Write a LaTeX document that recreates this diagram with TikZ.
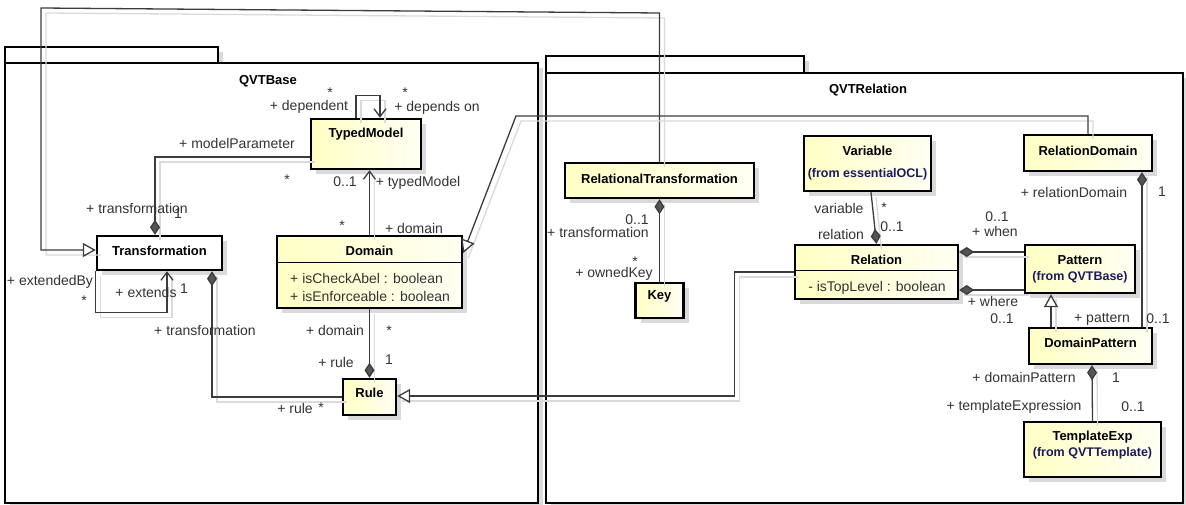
\documentclass[tikz,border=0pt]{standalone}
\usepackage{fontspec}
\setmainfont{Liberation Sans}
\usetikzlibrary{arrows.meta,shadows}

\definecolor{lbl}{HTML}{333333}
\definecolor{conn}{HTML}{3C3C3C}
\definecolor{shd}{HTML}{DADADA}
\definecolor{clsA}{HTML}{FFFFC4}
\definecolor{clsB}{HTML}{FFFFF4}
\definecolor{fromc}{HTML}{1A1A5E}
\definecolor{dia}{HTML}{555555}

\tikzset{
  every node/.style={font=\fontsize{14}{16}\selectfont},
  boxshadow/.style={drop shadow={shadow xshift=5pt, shadow yshift=-5pt, fill=shd, opacity=1}},
  pkg/.style={draw=black, line width=2pt, fill=white, inner sep=0, boxshadow},
  cls/.style={draw=black, line width=2.4pt, inner sep=0, left color=clsA, right color=clsB, boxshadow},
  plaincls/.style={draw=black, line width=2.4pt, inner sep=0, fill=white, boxshadow},
  title/.style={font=\bfseries\fontsize{13}{15}\selectfont, inner sep=0},
  fromtxt/.style={font=\bfseries\fontsize{12.5}{15}\selectfont, text=fromc, inner sep=0},
  attr/.style={inner sep=0, anchor=west, text=lbl},
  lab/.style={text=lbl, inner sep=0},
  divider/.style={draw=black, line width=1.3pt},
  conn/.style={draw=conn, line width=1.3pt,
    preaction={draw=shd, line width=1.3pt, -, transform canvas={shift={(5pt,-5pt)}}}},
  gen/.style={conn, -{Triangle[open, length=13pt, width=14pt, fill=white]}},
  nav/.style={conn, -{Straight Barb[length=8pt, width=12pt]}},
  compE/.style={conn, -{Diamond[length=15pt, width=10pt, fill=dia]}},
  compS/.style={conn, {Diamond[length=15pt, width=10pt, fill=dia]}-},
}

\begin{document}
\begin{tikzpicture}[x=1pt, y=-1pt]
\useasboundingbox (0,0) rectangle (1186,505);

% packages
\node[pkg, minimum width=213pt, minimum height=16pt] (baseTab) at (111.5,55) {};
\node[pkg, minimum width=532.5pt, minimum height=440pt] (baseFrame) at (271.25,283) {};
\node[title] (baseName) at (268,81) {QVTBase};

\node[pkg, minimum width=258pt, minimum height=17pt] (relTab) at (675,64.5) {};
\node[pkg, minimum width=637pt, minimum height=430pt] (relFrame) at (864.5,288) {};
\node[title] (relName) at (868,90) {QVTRelation};

% classes of QVTBase
\node[cls, minimum width=110pt, minimum height=50pt] (TM) at (366,144) {};
\node[title] (tTM) at ([yshift=-16pt]TM.north) {TypedModel};

\node[cls, minimum width=185pt, minimum height=72pt] (Dom) at (369.5,272) {};
\node[title] (tDom) at ([yshift=-16pt]Dom.north) {Domain};
\draw[divider] ([yshift=-28pt]Dom.north west) -- ([yshift=-28pt]Dom.north east);
\node[attr] (aDom1) at (290,278) {+ isCheckAbel : boolean};
\node[attr] (aDom2) at (290,296) {+ isEnforceable : boolean};

\node[plaincls, minimum width=125pt, minimum height=34pt] (Tr) at (159.5,253) {};
\node[title] (tTr) at ([yshift=-16pt]Tr.north) {Transformation};

\node[cls, minimum width=53pt, minimum height=36pt] (Rule) at (369.5,397) {};
\node[title] (tRule) at ([yshift=-15pt]Rule.north) {Rule};

% classes of QVTRelation
\node[cls, minimum width=189pt, minimum height=35pt] (RT) at (659.5,180.5) {};
\node[title] (tRT) at ([yshift=-17pt]RT.north) {RelationalTransformation};

\node[cls, minimum width=48pt, minimum height=35pt] (Key) at (659.5,300.5) {};
\node[title] (tKey) at ([yshift=-15pt]Key.north) {Key};

\node[cls, minimum width=127pt, minimum height=55pt] (Var) at (867.5,163.5) {};
\node[title] (tVar) at ([yshift=-16pt]Var.north) {Variable};
\node[fromtxt] (fVar) at ([yshift=-39pt]Var.north) {(from essentialOCL)};

\node[cls, minimum width=163pt, minimum height=54pt] (Rel) at (876.5,272) {};
\node[title] (tRel) at ([yshift=-16pt]Rel.north) {Relation};
\draw[divider] ([yshift=-27pt]Rel.north west) -- ([yshift=-27pt]Rel.north east);
\node[lab] (aRel) at (877,288) {- isTopLevel : boolean};

\node[cls, minimum width=110pt, minimum height=48pt] (Pat) at (1080,269) {};
\node[title] (tPat) at ([yshift=-16pt]Pat.north) {Pattern};
\node[fromtxt] (fPat) at ([yshift=-33pt]Pat.north) {(from QVTBase)};

\node[cls, minimum width=128pt, minimum height=36pt] (RD) at (1088,153) {};
\node[title] (tRD) at ([yshift=-17pt]RD.north) {RelationDomain};

\node[cls, minimum width=123pt, minimum height=36pt] (DP) at (1090.5,346) {};
\node[title] (tDP) at ([yshift=-16pt]DP.north) {DomainPattern};

\node[cls, minimum width=137pt, minimum height=55pt] (TE) at (1092.5,449.5) {};
\node[title] (tTE) at ([yshift=-16pt]TE.north) {TemplateExp};
\node[fromtxt] (fTE) at ([yshift=-32pt]TE.north) {(from QVTTemplate)};

% bend points
\coordinate (rtTop) at (659.5,13);
\coordinate (leftTop) at (41,8);
\coordinate (rdBend) at (516,116);

% connectors
\draw[gen] (RT.north) -- (rtTop) -- (leftTop) |- ([yshift=3pt]Tr.west);
\draw[nav] ([xshift=-10pt]TM.north) -- ++(0,-22) -| ([xshift=14pt]TM.north);
\draw[nav] (Dom.north) -- (Dom.north |- TM.south);
\draw[compE] ([yshift=-13pt]TM.west) -| ([xshift=-4.5pt]Tr.north);
\draw[nav] (Tr.south west) -- ++(0,41) -| ([xshift=7.5pt]Tr.south);
\draw[compE] (Rule.west) -| ([xshift=52.5pt]Tr.south);
\draw[compE] (Dom.south) -- (Rule.north);
\draw[gen] (RD.north) |- (rdBend) -- ([yshift=19pt]Dom.east);
\draw[compS] (RT.south) -- (Key.north);
\draw[compE] ([xshift=3.5pt]Var.south) -- (Rel.north);
\draw[compS] ([yshift=20pt]Rel.east) -- ([yshift=17pt]Pat.west);
\draw[compS] ([yshift=-18pt]Rel.east) -- ([yshift=-21pt]Pat.west);
\draw[gen] ([xshift=-39.5pt]DP.north) -- ([xshift=-29pt]Pat.south);
\draw[compS] ([xshift=54pt]RD.south) -- ([xshift=51.5pt]DP.north);
\draw[compS] ([xshift=1.5pt]DP.south) -- (TE.north);
\draw[gen] (Rel.west) -- ++(-59,0) |- ([yshift=1pt]Rule.east);

% association end labels
\node[lab] (l1) at (330,93) {*};
\node[lab] (l2) at (309,107) {+ dependent};
\node[lab] (l3) at (405,93) {*};
\node[lab] (l4) at (437,108) {+ depends on};
\node[lab] (l5) at (237,143) {+ modelParameter};
\node[lab] (l6) at (287,180) {*};
\node[lab] (l7) at (137,208) {+ transformation};
\node[lab] (l8) at (178,214) {1};
\node[lab] (l9) at (345,182) {0..1};
\node[lab] (l10) at (418,183) {+ typedModel};
\node[lab] (l11) at (342,226) {*};
\node[lab] (l12) at (414,228) {+ domain};
\node[lab] (l13) at (50,282) {+ extendedBy};
\node[lab] (l14) at (84,301) {*};
\node[lab] (l15) at (146,292) {+ extends};
\node[lab] (l16) at (184,289) {1};
\node[lab] (l17) at (205,330) {+ transformation};
\node[lab] (l18) at (295,408) {+ rule};
\node[lab] (l19) at (321,408) {*};
\node[lab] (l20) at (335,330) {+ domain};
\node[lab] (l21) at (389,331) {*};
\node[lab] (l22) at (336,362) {+ rule};
\node[lab] (l23) at (389,360) {1};
\node[lab] (l24) at (637,220) {0..1};
\node[lab] (l25) at (598,232) {+ transformation};
\node[lab] (l26) at (635,262) {*};
\node[lab] (l27) at (614,274) {+ ownedKey};
\node[lab] (l28) at (839,208) {variable};
\node[lab] (l29) at (884,208) {*};
\node[lab] (l30) at (841,234) {relation};
\node[lab] (l31) at (892,227) {0..1};
\node[lab] (l32) at (997,217) {0..1};
\node[lab] (l33) at (995,231) {+ when};
\node[lab] (l34) at (993,301) {+ where};
\node[lab] (l35) at (1002,319) {0..1};
\node[lab] (l36) at (1074,192) {+ relationDomain};
\node[lab] (l37) at (1162,192) {1};
\node[lab] (l38) at (1102,319) {+ pattern};
\node[lab] (l39) at (1158,319) {0..1};
\node[lab] (l40) at (1024,377) {+ domainPattern};
\node[lab] (l41) at (1116,378) {1};
\node[lab] (l42) at (1014,407) {+ templateExpression};
\node[lab] (l43) at (1133,407) {0..1};
\end{tikzpicture}
\end{document}
